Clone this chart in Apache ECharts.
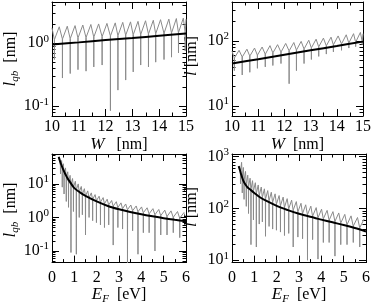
<!DOCTYPE html>
<html><head><meta charset="utf-8">
<script src="https://cdn.jsdelivr.net/npm/echarts@6/dist/echarts.min.js"></script>
<style>html,body{margin:0;padding:0;background:#fff}#c{width:374px;height:306px}</style>
</head><body><div id="c"></div>
<script>
// ===== DATA: top panels (x = W in nm) =====
const wBlack = [10, 11, 12, 13, 14, 15];
const lqbW_black = [0.95, 1.03, 1.12, 1.21, 1.31, 1.42];
const lW_black = [45, 52.5, 61.5, 72, 84, 98];
const wDips = [10.09,10.39,10.68,10.97,11.27,11.56,11.87,12.18,12.46,12.75,13.03,13.31,13.60,13.87,14.18,14.46,14.72,14.97];
const wPeaks = [10.27,10.57,10.86,11.15,11.45,11.74,12.05,12.36,12.64,12.93,13.21,13.49,13.78,14.05,14.36,14.64,14.90,15.0];
const lqbW_start = [10.0, 1.75];
const lqbW_valley = [1.15,1.17,1.19,1.22,1.24,1.26,1.28,1.31,1.33,1.35,1.37,1.39,1.41,1.43,1.45,1.47,1.49,1.51];
const lqbW_dip = [0.55,0.28,0.33,0.38,0.36,0.42,0.45,0.085,0.18,0.26,0.35,0.45,0.42,0.5,0.55,0.6,0.7,0.75];
const lqbW_peak = [1.82,1.86,1.9,1.94,1.98,2.02,2.06,2.1,2.14,2.18,2.22,2.27,2.31,2.36,2.41,2.46,2.5,2.4];
const lW_start = [10.0, 70];
const lW_valley = [55,57,59,61,63,66,68,71,73,76,79,82,85,88,91,94,97,100];
const lW_dip = [35,30,33,38,40,42,45,22,35,45,52,58,63,68,72,78,82,88];
const lW_peak = [72,75,78,81,85,88,92,95,99,103,107,111,115,120,125,130,136,130];

// ===== DATA: bottom panels (x = E_F in eV) =====
const eBlack = [0.3,0.35,0.4,0.5,0.6,0.7,0.8,1.0,1.25,1.5,2,2.5,3,3.5,4,4.5,5,5.5,6];
const lqbE_black = [64,50,40,27,19.5,14.5,11.5,7.5,5.6,4.4,3.0,2.2,1.75,1.45,1.24,1.08,0.95,0.85,0.77];
const lE_black = [660,560,470,350,290,255,235,200,165,143,112,93,79,69,61,54,48,42,36];
const eDips = [0.38,0.46,0.54,0.64,0.74,0.85,0.96,1.09,1.22,1.36,1.5,1.66,1.82,1.99,2.17,2.35,2.54,2.74,2.95,3.16,3.38,3.61,3.85,4.09,4.35,4.61,4.87,5.15,5.43,5.72];
const ePeaks = [0.43,0.51,0.605,0.705,0.81,0.92,1.045,1.175,1.31,1.45,1.6,1.76,1.93,2.11,2.29,2.47,2.67,2.88,3.09,3.30,3.53,3.77,4.01,4.26,4.52,4.78,5.05,5.33,5.62,5.92];
const lqbE_start = [0.3, 64];
const lqbE_valley = [35,26,20,15,11.5,9.5,8,6.8,5.8,5.0,4.4,3.9,3.5,3.2,2.9,2.6,2.4,2.2,2.0,1.85,1.72,1.6,1.5,1.4,1.3,1.22,1.15,1.08,1.02,0.96];
const lqbE_dip = [20,8,5,3,2,0.09,1.5,0.08,1.0,1.2,0.3,1.0,0.8,0.7,0.6,0.5,0.6,0.15,0.5,0.45,0.03,0.4,0.08,0.35,0.35,0.1,0.3,0.3,0.35,0.25];
const lqbE_peak = [50,40,30,23,18,14.5,12,10,8.4,7.2,6.2,5.4,4.8,4.3,3.9,3.5,3.2,2.95,2.72,2.52,2.35,2.2,2.06,1.94,1.83,1.73,1.65,1.57,1.5,1.43];
const lE_start = [0.3, 660];
const lE_valley = [535,418,353,300,265,240,221,200,182,168,155,144,134,123,115,107,100,94,87,81,77,72,67,64,60,57,53,49,46,43];
const lE_dip = [300,200,150,110,80,20,60,18,50,55,29,45,40,38,35,30,33,18,28,26,10,25,10.5,22,22,12,20,20,22,18];
const lE_peak = [780,620,520,440,385,345,315,285,260,240,222,206,192,178,166,155,145,136,126,118,111,104,97,92,87,82,77,72,67,63];

// axis ticks
const xTopTicks = [10, 15, 1];
const xBotTicks = [0, 6, 1];
const yMajor_lqbW = [0.1, 1];
const yMajor_lW = [10, 100];
const yMajor_lqbE = [0.1, 1, 10];
const yMajor_lE = [10, 100, 1000];

// ===== BUILD =====
const F = "'Liberation Serif','DejaVu Serif',serif";
function pairs(xs, ys){ return xs.map((x,i)=>[x, ys[i]]); }
function saw(start, dx, dv, vv, px, pv, eps){
  const pts=[start];
  for(let k=0;k<dx.length;k++){
    pts.push([dx[k]-eps, vv[k]],[dx[k], dv[k]],[dx[k]+eps, vv[k]],[px[k], pv[k]]);
  }
  return pts;
}
function minorVals(min,max){
  const out=[];
  for(let e=-3;e<=4;e++) for(let m=2;m<=9;m++){
    const v=+(m*Math.pow(10,e)).toPrecision(6);
    if(v>=min*0.999 && v<=max*1.001) out.push(v);
  }
  return out;
}
const line={color:'#000',width:1};
const rich={
  i:{fontFamily:F,fontStyle:'italic',fontSize:17,color:'#000'},
  sub:{fontFamily:F,fontStyle:'italic',fontSize:11,color:'#000',padding:[9,0,0,0]},
  n:{fontFamily:F,fontSize:16,color:'#000'}
};
const labRich={
  b:{fontFamily:F,fontSize:16,color:'#000'},
  s:{fontFamily:F,fontSize:11,color:'#000',padding:[0,0,9,0]}
};

const panels=[
  {grid:{left:52,top:2,width:134,height:114}, x:xTopTicks, ymin:0.07, ymax:4.5, major:yMajor_lqbW,
   xName:'{i|W}{n|   [nm]}', yName:'{i|l}{sub|qb}{n|  [nm]}', xGap:16, yPos:[11,59], xMargin:3,
   gray:saw(lqbW_start,wDips,lqbW_dip,lqbW_valley,wPeaks,lqbW_peak,0.004), black:pairs(wBlack,lqbW_black)},
  {grid:{left:232,top:2,width:134,height:114}, x:xTopTicks, ymin:7, ymax:400, major:yMajor_lW,
   xName:'{i|W}{n|  [nm]}', yName:'{i|l}{n| [nm]}', xGap:16, yPos:[192,56], xMargin:3,
   gray:saw(lW_start,wDips,lW_dip,lW_valley,wPeaks,lW_peak,0.004), black:pairs(wBlack,lW_black)},
  {grid:{left:52,top:154,width:134,height:113}, x:xBotTicks, ymin:0.045, ymax:78, major:yMajor_lqbE,
   xName:'{i|E}{sub|F}{n|  [eV]}', yName:'{i|l}{sub|qb}{n|  [nm]}', xGap:17, yPos:[11,210], xMargin:7,
   gray:saw(lqbE_start,eDips,lqbE_dip,lqbE_valley,ePeaks,lqbE_peak,0.005), black:pairs(eBlack,lqbE_black)},
  {grid:{left:232,top:154,width:134,height:113}, x:xBotTicks, ymin:9, ymax:1130, major:yMajor_lE,
   xName:'{i|E}{sub|F}{n|  [eV]}', yName:'{i|l}{n| [nm]}', xGap:17, yPos:[192,207], xMargin:7,
   gray:saw(lE_start,eDips,lE_dip,lE_valley,ePeaks,lE_peak,0.005), black:pairs(eBlack,lE_black)}
];

const option={animation:false, grid:[], xAxis:[], yAxis:[], series:[], graphic:[]};
panels.forEach((p,g)=>{
  option.grid.push(p.grid);
  const xi=option.xAxis.length, yi=option.yAxis.length;
  const xBase={gridIndex:g,type:'value',min:p.x[0],max:p.x[1],interval:p.x[2],
    axisLine:{show:true,onZero:false,lineStyle:line}, splitLine:{show:false},
    axisTick:{show:true,inside:true,length:7,lineStyle:line},
    minorTick:{show:true,splitNumber:2,length:3.5,lineStyle:line}, minorSplitLine:{show:false}};
  option.xAxis.push(Object.assign({},xBase,{position:'bottom',
    axisLabel:{show:true,margin:p.xMargin,fontFamily:F,fontSize:16,color:'#000'},
    name:p.xName,nameLocation:'middle',nameGap:p.xGap,nameTextStyle:{rich:rich}}));
  option.xAxis.push(Object.assign({},xBase,{position:'top',axisLabel:{show:false}}));
  const minors=minorVals(p.ymin,p.ymax);
  ['left','right'].forEach(pos=>{
    const yb={gridIndex:g,type:'log',logBase:10,min:p.ymin,max:p.ymax,position:pos,splitLine:{show:false}};
    option.yAxis.push(Object.assign({},yb,{
      axisLine:{show:true,lineStyle:line},
      axisTick:{show:true,inside:true,length:7,lineStyle:line,customValues:p.major},
      axisLabel:pos==='left'?{show:true,margin:3,customValues:p.major,rich:labRich,
        formatter:v=>'{b|10}{s|'+Math.round(Math.log10(v))+'}'}:{show:false}
    }));
    option.yAxis.push(Object.assign({},yb,{
      axisLine:{show:false},
      axisTick:{show:true,inside:true,length:3.5,lineStyle:line,customValues:minors},
      axisLabel:{show:false}
    }));
  });
  option.graphic.push({type:'text',x:p.yPos[0],y:p.yPos[1],rotation:Math.PI/2,
    style:{text:p.yName,rich:rich,align:'center',verticalAlign:'middle'}});
  option.series.push({type:'line',xAxisIndex:xi,yAxisIndex:yi,data:p.gray,showSymbol:false,
    lineStyle:{color:'#8a8a8a',width:1},clip:true,z:2});
  option.series.push({type:'line',xAxisIndex:xi,yAxisIndex:yi,data:p.black,showSymbol:false,smooth:0.3,
    lineStyle:{color:'#000',width:2},clip:true,z:3});
});
const chart=echarts.init(document.getElementById('c'),null,{renderer:'canvas'});
chart.setOption(option);
</script></body></html>
